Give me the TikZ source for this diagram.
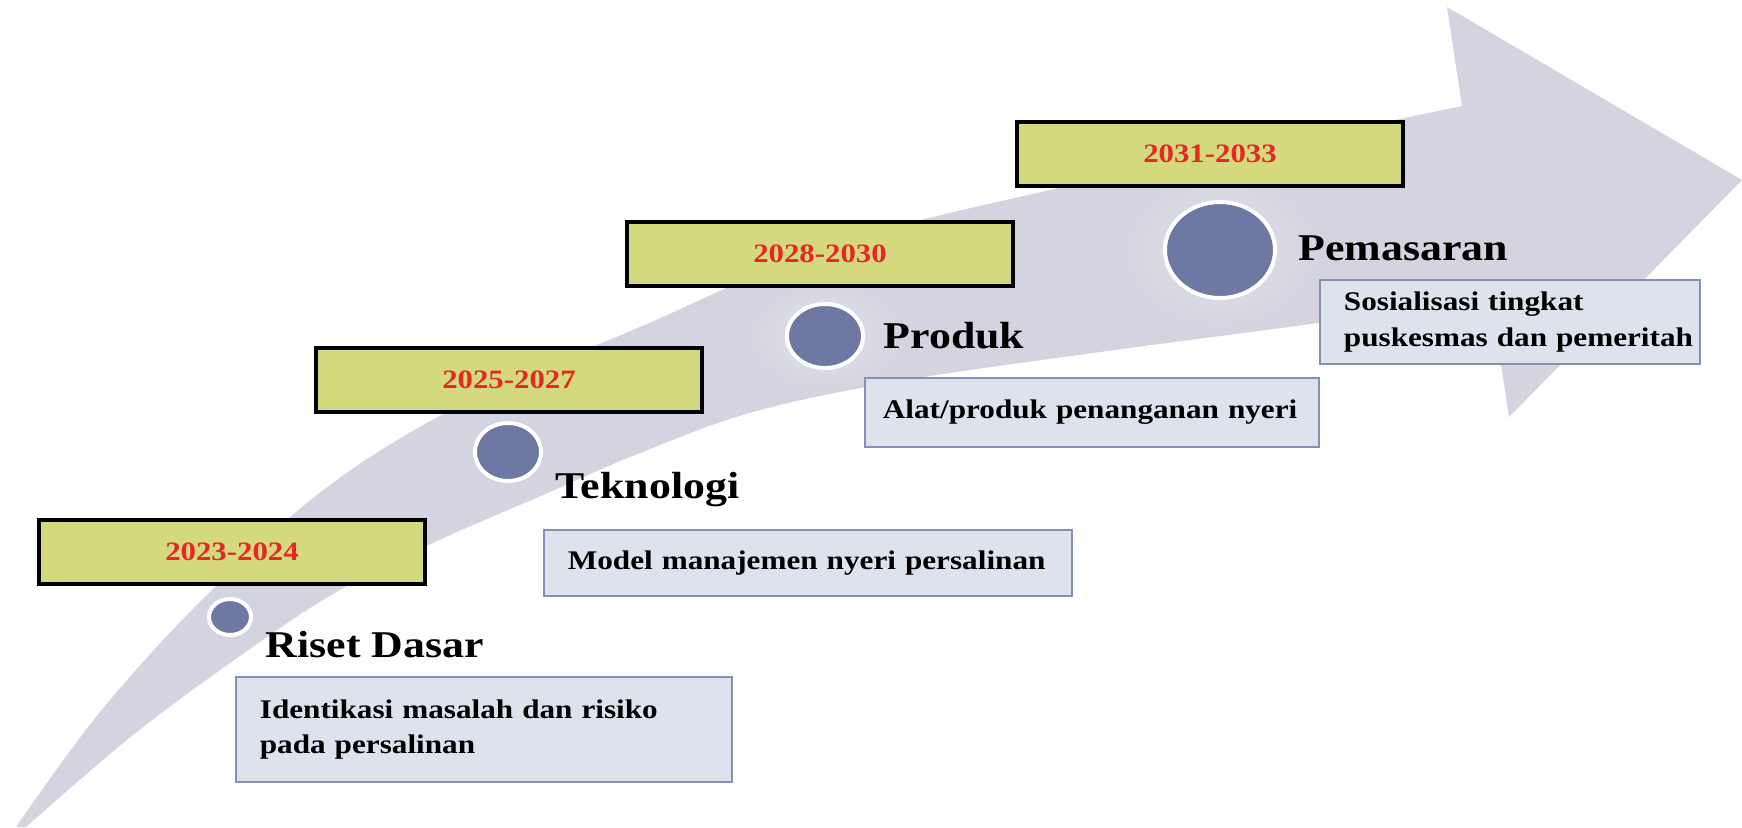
\documentclass[tikz,border=0pt]{standalone}
\usepackage{fontspec}
\setmainfont{Liberation Serif}[FakeStretch=1.16]
\usepackage{tikz}
\usetikzlibrary{shapes.geometric}
\definecolor{bandgray}{RGB}{211,212,223}
\definecolor{halogray}{RGB}{225,226,234}
\definecolor{dotblue}{RGB}{110,121,163}
\definecolor{yearfill}{RGB}{212,217,125}
\definecolor{yearred}{RGB}{232,38,38}
\definecolor{descfill}{RGB}{220,227,236}
\definecolor{descline}{RGB}{133,145,180}

\begin{document}
\begin{tikzpicture}[x=0.01cm,y=-0.01cm,
  yearbox/.style={draw=black,line width=0.04cm,fill=yearfill,minimum width=3.86cm,minimum height=0.64cm,inner sep=0pt,text=yearred,font=\fontsize{7.55}{9}\selectfont\bfseries},
  descbox/.style={draw=descline,line width=0.025cm,fill=descfill,inner xsep=0.24cm,inner ysep=0pt,align=left,font=\fontsize{7.65}{10.2}\selectfont\bfseries},
  dot/.style={ellipse,draw=white,line width=0.04cm,fill=dotblue,inner sep=0pt},
  stage/.style={anchor=base west,inner sep=0pt,font=\fontsize{10.75}{12}\selectfont\bfseries}]
  \useasboundingbox (0,0) rectangle (1742,827);
  % curved arrow
  \fill[bandgray] plot[smooth,tension=0.6] coordinates {(16,827) (100,712) (205,597) (330,485) (470,400) (640,327) (830,246) (1050,190) (1250,150) (1462,106)}
    -- (1447,7) -- (1742,180) -- (1509,417) -- (1491,298)
    -- plot[smooth,tension=0.6] coordinates {(1491,298) (1318,323) (1100,352) (900,381) (753,412) (640,453) (543,495) (433,543) (333,594) (240,656) (133,735) (26,827)}
    -- cycle;
  \shade[inner color=halogray,outer color=bandgray] (825,336) ellipse (80 and 55);
  \shade[inner color=halogray,outer color=bandgray] (1220,250) ellipse (100 and 80);

  % years
  \node[yearbox] (y1) at (232,552) {2023-2024};
  \node[yearbox] (y2) at (509,380) {2025-2027};
  \node[yearbox] (y3) at (820,254) {2028-2030};
  \node[yearbox] (y4) at (1210,154) {2031-2033};

  % dots on the arrow
  \node[dot,minimum width=0.42cm,minimum height=0.36cm] (d1) at (230,617) {};
  \node[dot,minimum width=0.66cm,minimum height=0.58cm] (d2) at (508,452) {};
  \node[dot,minimum width=0.76cm,minimum height=0.64cm] (d3) at (825,336) {};
  \node[dot,minimum width=1.10cm,minimum height=0.96cm] (d4) at (1220,250) {};

  \node[stage] (s1) at (265,657) {Riset Dasar};
  \node[stage] (s2) at (555,498) {Teknologi};
  \node[stage] (s3) at (883,348) {Produk};
  \node[stage] (s4) at (1298,260) {Pemasaran};

  \node[descbox,text width=4.48cm,minimum height=1.05cm] (t1) at (484,729.5) {\mbox{Identikasi masalah dan risiko}\\\mbox{pada persalinan}};
  \node[descbox,text width=4.80cm,minimum height=0.66cm] (t2) at (808,563) {\mbox{Model manajemen nyeri persalinan}};
  \node[descbox,text width=4.18cm,minimum height=0.69cm,inner xsep=0.18cm] (t3) at (1092,412.5) {\mbox{Alat/produk penanganan nyeri}};
  \node[descbox,text width=3.32cm,minimum height=0.84cm] (t4) at (1510,322) {\mbox{Sosialisasi tingkat}\\\mbox{puskesmas dan pemeritah}};
\end{tikzpicture}
\end{document}
